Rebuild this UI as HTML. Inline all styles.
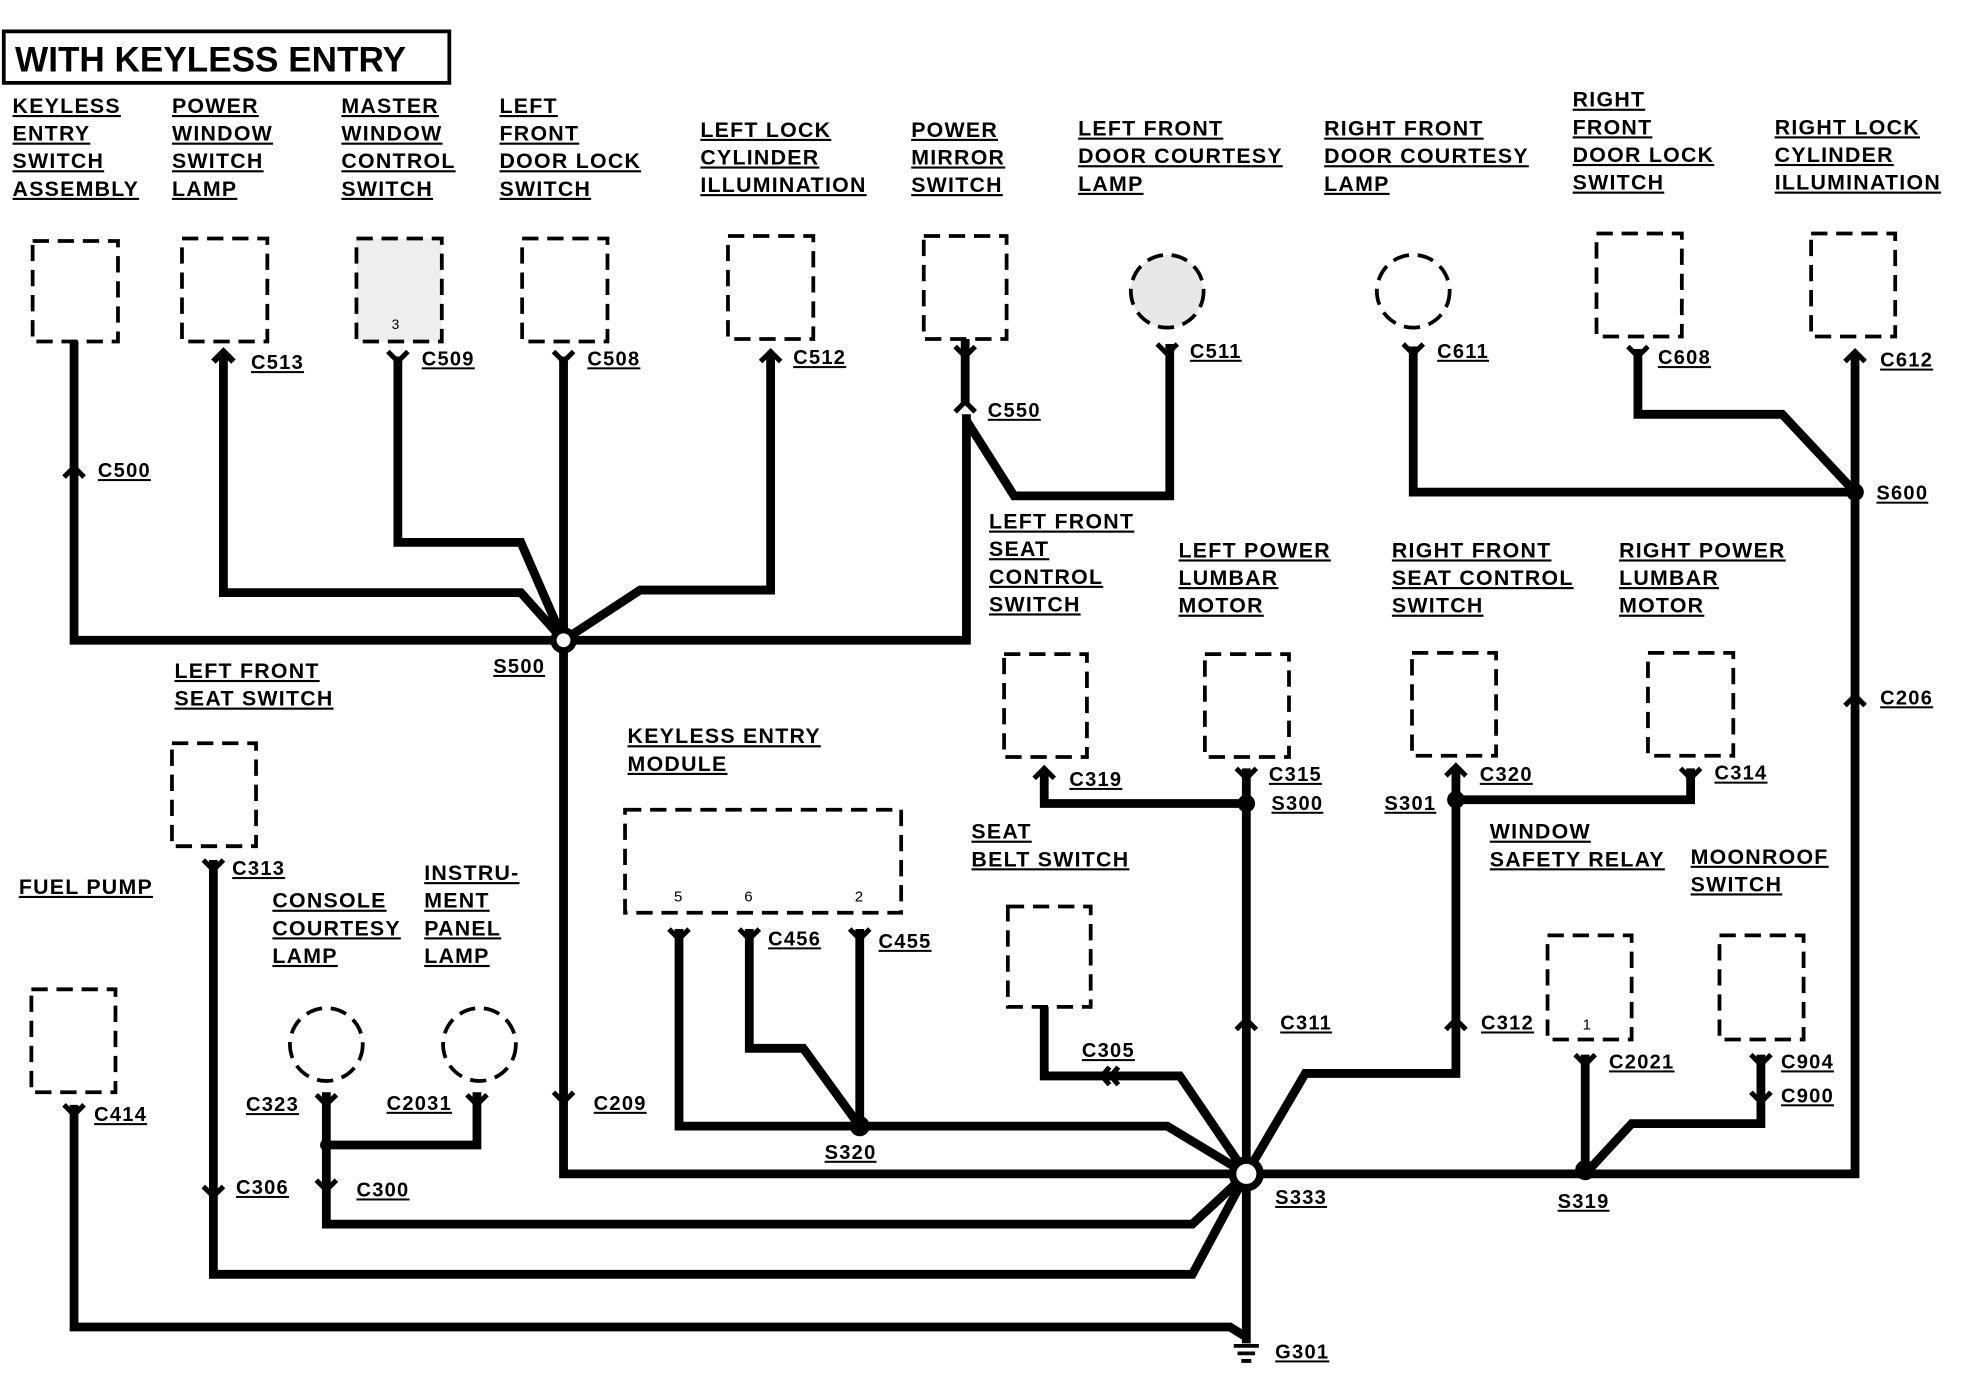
<!DOCTYPE html>
<html><head><meta charset="utf-8"><style>
html,body{margin:0;padding:0;background:#fff}
svg{display:block}
text{font-family:"Liberation Sans",sans-serif;font-size:17px;letter-spacing:1px;fill:#000;text-decoration:underline;font-weight:bold}
.w{fill:none;stroke:#000;stroke-width:7;stroke-linejoin:miter}
.b{fill:#fff;stroke:#000;stroke-width:3;stroke-dasharray:13 7}
.c{fill:none;stroke:#000;stroke-width:3}
</style></head><body>
<svg width="1968" height="1376" viewBox="0 0 1568 1096" preserveAspectRatio="none" xmlns="http://www.w3.org/2000/svg">
<rect x="3" y="25" width="355" height="41" fill="#fff" stroke="#000" stroke-width="3"/>
<text x="12" y="57" style="font-size:28px;text-decoration:none;letter-spacing:0px">WITH KEYLESS ENTRY</text>

<text x="10" y="90">KEYLESS</text><text x="10" y="112">ENTRY</text><text x="10" y="134">SWITCH</text><text x="10" y="156">ASSEMBLY</text>
<text x="137" y="90">POWER</text><text x="137" y="112">WINDOW</text><text x="137" y="134">SWITCH</text><text x="137" y="156">LAMP</text>
<text x="272" y="90">MASTER</text><text x="272" y="112">WINDOW</text><text x="272" y="134">CONTROL</text><text x="272" y="156">SWITCH</text>
<text x="398" y="90">LEFT</text><text x="398" y="112">FRONT</text><text x="398" y="134">DOOR LOCK</text><text x="398" y="156">SWITCH</text>
<text x="558" y="109">LEFT LOCK</text><text x="558" y="131">CYLINDER</text><text x="558" y="153">ILLUMINATION</text>
<text x="726" y="109">POWER</text><text x="726" y="131">MIRROR</text><text x="726" y="153">SWITCH</text>
<text x="859" y="108">LEFT FRONT</text><text x="859" y="130">DOOR COURTESY</text><text x="859" y="152">LAMP</text>
<text x="1055" y="108">RIGHT FRONT</text><text x="1055" y="130">DOOR COURTESY</text><text x="1055" y="152">LAMP</text>
<text x="1253" y="85">RIGHT</text><text x="1253" y="107">FRONT</text><text x="1253" y="129">DOOR LOCK</text><text x="1253" y="151">SWITCH</text>
<text x="1414" y="107">RIGHT LOCK</text><text x="1414" y="129">CYLINDER</text><text x="1414" y="151">ILLUMINATION</text>

<text x="788" y="421">LEFT FRONT</text><text x="788" y="443">SEAT</text><text x="788" y="465">CONTROL</text><text x="788" y="487">SWITCH</text>
<text x="939" y="444">LEFT POWER</text><text x="939" y="466">LUMBAR</text><text x="939" y="488">MOTOR</text>
<text x="1109" y="444">RIGHT FRONT</text><text x="1109" y="466">SEAT CONTROL</text><text x="1109" y="488">SWITCH</text>
<text x="1290" y="444">RIGHT POWER</text><text x="1290" y="466">LUMBAR</text><text x="1290" y="488">MOTOR</text>
<text x="139" y="540">LEFT FRONT</text><text x="139" y="562">SEAT SWITCH</text>
<text x="500" y="592">KEYLESS ENTRY</text><text x="500" y="614">MODULE</text>
<text x="774" y="668">SEAT</text><text x="774" y="690">BELT SWITCH</text>
<text x="1187" y="668">WINDOW</text><text x="1187" y="690">SAFETY RELAY</text>
<text x="1347" y="688">MOONROOF</text><text x="1347" y="710">SWITCH</text>
<text x="15" y="712">FUEL PUMP</text>
<text x="217" y="723">CONSOLE</text><text x="217" y="745">COURTESY</text><text x="217" y="767">LAMP</text>
<text x="338" y="701">INSTRU-</text><text x="338" y="723">MENT</text><text x="338" y="745">PANEL</text><text x="338" y="767">LAMP</text>

<g>
<text x="78" y="380" style="font-size:16px">C500</text><text x="200" y="294" style="font-size:16px">C513</text><text x="336" y="291" style="font-size:16px">C509</text><text x="468" y="291" style="font-size:16px">C508</text>
<text x="632" y="290" style="font-size:16px">C512</text><text x="787" y="332" style="font-size:16px">C550</text><text x="948" y="285" style="font-size:16px">C511</text><text x="1145" y="285" style="font-size:16px">C611</text>
<text x="1321" y="290" style="font-size:16px">C608</text><text x="1498" y="292" style="font-size:16px">C612</text><text x="1495" y="398" style="font-size:16px">S600</text><text x="393" y="536" style="font-size:16px">S500</text>
<text x="1498" y="561" style="font-size:16px">C206</text><text x="852" y="626" style="font-size:16px">C319</text><text x="1011" y="622" style="font-size:16px">C315</text><text x="1013" y="645" style="font-size:16px">S300</text>
<text x="1179" y="622" style="font-size:16px">C320</text><text x="1103" y="645" style="font-size:16px">S301</text><text x="1366" y="621" style="font-size:16px">C314</text>
<text x="185" y="697" style="font-size:16px">C313</text><text x="612" y="753" style="font-size:16px">C456</text><text x="700" y="755" style="font-size:16px">C455</text>
<text x="1020" y="820" style="font-size:16px">C311</text><text x="1180" y="820" style="font-size:16px">C312</text><text x="862" y="842" style="font-size:16px">C305</text>
<text x="1282" y="851" style="font-size:16px">C2021</text><text x="1419" y="851" style="font-size:16px">C904</text><text x="1419" y="878" style="font-size:16px">C900</text>
<text x="75" y="893" style="font-size:16px">C414</text><text x="196" y="885" style="font-size:16px">C323</text><text x="308" y="884" style="font-size:16px">C2031</text><text x="473" y="884" style="font-size:16px">C209</text>
<text x="188" y="951" style="font-size:16px">C306</text><text x="284" y="953" style="font-size:16px">C300</text><text x="657" y="923" style="font-size:16px">S320</text>
<text x="1016" y="959" style="font-size:16px">S333</text><text x="1241" y="962" style="font-size:16px">S319</text><text x="1016" y="1082" style="font-size:16px">G301</text>
</g>

<rect class="b" x="26" y="192" width="68" height="80"/>
<rect class="b" x="145" y="190" width="68" height="82"/>
<rect class="b" x="284" y="190" width="68" height="82" style="fill:#eee"/>
<text x="312" y="262" style="font-size:11px;text-decoration:none;font-weight:normal">3</text>
<rect class="b" x="416" y="190" width="68" height="82"/>
<rect class="b" x="580" y="188" width="68" height="82"/>
<rect class="b" x="736" y="188" width="66" height="82"/>
<circle class="b" cx="930" cy="232" r="29" style="fill:#e8e8e8"/>
<circle class="b" cx="1126" cy="232" r="29"/>
<rect class="b" x="1272" y="186" width="68" height="82"/>
<rect class="b" x="1443" y="186" width="67" height="82"/>
<rect class="b" x="800" y="521" width="66" height="82"/>
<rect class="b" x="960" y="521" width="67" height="82"/>
<rect class="b" x="1125" y="520" width="67" height="82"/>
<rect class="b" x="1313" y="520" width="68" height="82"/>
<rect class="b" x="137" y="592" width="67" height="82"/>
<rect class="b" x="498" y="645" width="220" height="82"/>
<text x="537" y="718" style="text-decoration:none;font-size:12px;font-weight:normal">5</text><text x="593" y="718" style="text-decoration:none;font-size:12px;font-weight:normal">6</text><text x="681" y="718" style="text-decoration:none;font-size:12px;font-weight:normal">2</text>
<rect class="b" x="803" y="722" width="66" height="80"/>
<rect class="b" x="1233" y="745" width="67" height="83"/>
<text x="1261" y="820" style="font-size:12px;text-decoration:none;font-weight:normal">1</text>
<rect class="b" x="1370" y="745" width="67" height="83"/>
<rect class="b" x="25" y="788" width="67" height="82"/>
<circle class="b" cx="260" cy="832" r="29"/>
<circle class="b" cx="382" cy="832" r="29"/>

<path class="w" d="M59 272 V510 H449"/>
<path class="w" d="M178 283 V472 H415 L449 510"/>
<path class="w" d="M317 284 V432 H415 L449 510"/>
<path class="w" d="M449 284 V935 H993"/>
<path class="w" d="M614 283 V470 H510 L449 510"/>
<path class="w" d="M449 510 H770 V330"/>
<path class="w" d="M769 270 V322"/>
<path class="w" d="M770 335 L808 395 H932 V274"/>
<path class="w" d="M1126 276 V392 H1478"/>
<path class="w" d="M1305 278 V330 H1420 L1478 392"/>
<path class="w" d="M1478 283 V935 H993"/>
<path class="w" d="M832 615 V640 H993"/>
<path class="w" d="M993 612 V935"/>
<path class="w" d="M1160 612 V637 H1347 V612"/>
<path class="w" d="M1160 637 V855 H1040 L993 935"/>
<path class="w" d="M832 802 V857 H940 L993 935"/>
<path class="w" d="M1263 840 V935"/>
<path class="w" d="M1403 840 V895 H1300 L1263 935"/>
<path class="w" d="M541 740 V897 H685"/>
<path class="w" d="M597 740 V835 H640 L685 897"/>
<path class="w" d="M685 740 V897 H930 L993 935"/>
<path class="w" d="M170 685 V1015 H950 L993 935"/>
<path class="w" d="M260 870 V975 H950 L993 935"/>
<path class="w" d="M380 870 V912 H262"/>
<path class="w" d="M59 880 V1057 H980 L993 1065"/>
<path class="w" d="M993 935 V1070"/>

<g class="c" style="stroke-width:4">
<path d="M51 380 L59 372 L67 380"/><path d="M170 288 L178 280 L186 288" style="stroke-width:5"/>
<path d="M309 280 L317 288 L325 280"/><path d="M441 280 L449 288 L457 280"/>
<path d="M606 288 L614 280 L622 288"/><path d="M761 276 L769 284 L777 276"/>
<path d="M761 328 L769 320 L777 328"/><path d="M922 274 L930 282 L938 274"/>
<path d="M1118 274 L1126 282 L1134 274"/><path d="M1297 276 L1305 284 L1313 276"/>
<path d="M1470 288 L1478 280 L1486 288"/><path d="M1470 562 L1478 554 L1486 562"/>
<path d="M824 620 L832 612 L840 620"/><path d="M985 612 L993 620 L1001 612"/>
<path d="M1152 618 L1160 610 L1168 618"/><path d="M1339 612 L1347 620 L1355 612"/>
<path d="M162 685 L170 693 L178 685"/><path d="M533 740 L541 748 L549 740"/>
<path d="M589 740 L597 748 L605 740"/><path d="M677 740 L685 748 L693 740"/>
<path d="M985 820 L993 812 L1001 820"/><path d="M1152 820 L1160 812 L1168 820"/>
<path d="M1255 840 L1263 848 L1271 840"/><path d="M1395 840 L1403 848 L1411 840"/>
<path d="M1395 870 L1403 878 L1411 870"/><path d="M51 880 L59 888 L67 880"/>
<path d="M252 872 L260 880 L268 872"/><path d="M372 872 L380 880 L388 872"/>
<path d="M441 870 L449 878 L457 870"/><path d="M162 945 L170 953 L178 945"/>
<path d="M252 940 L260 948 L268 940"/><path d="M884 850 L878 857 L884 864"/><path d="M891 850 L885 857 L891 864"/>
</g>

<circle cx="449" cy="510" r="8" fill="#fff" stroke="#000" stroke-width="5"/>
<circle cx="993" cy="935" r="11" fill="#fff" stroke="#000" stroke-width="6"/>
<circle cx="1478" cy="392" r="7" fill="#000"/>
<circle cx="993" cy="640" r="7" fill="#000"/>
<circle cx="1160" cy="637" r="7" fill="#000"/>
<circle cx="685" cy="897" r="8" fill="#000"/>
<circle cx="1263" cy="932" r="8" fill="#000"/>
<circle cx="260" cy="912" r="5" fill="#000"/>
<path d="M983 1072 H1003 M986 1078 H1000 M989 1084 H997" stroke="#000" stroke-width="3"/>
</svg>
</body></html>
